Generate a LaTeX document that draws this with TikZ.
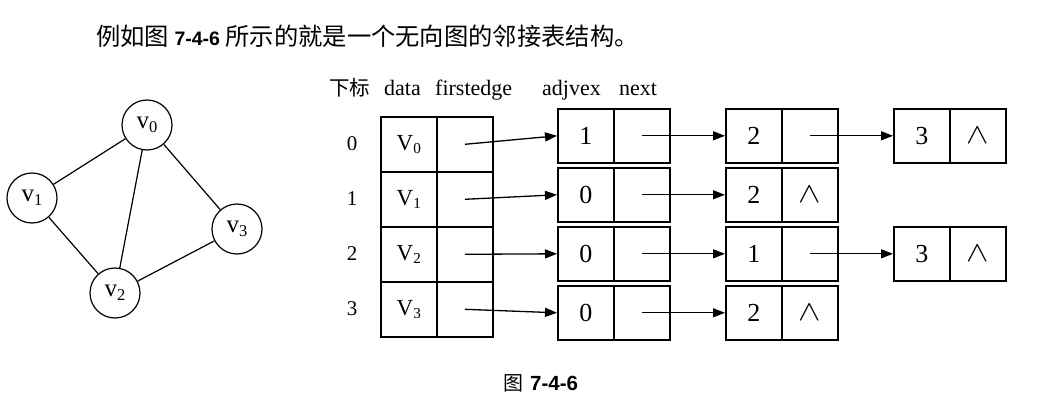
\documentclass[tikz,border=0pt]{standalone}
\usepackage{fontspec}
\setmainfont{Liberation Serif}
\newfontfamily\cjk{Noto Sans CJK SC}
\newfontfamily\bsans{Liberation Sans}
\usetikzlibrary{arrows.meta}
\newcommand\lsub[1]{\raisebox{-0.32ex}{\scalebox{0.66}{#1}}}
\newcommand\nil{\scalebox{1.35}[1.15]{$\wedge$}}
\begin{document}
\begin{tikzpicture}[x=1pt,y=-1pt,
  cellbox/.style={draw, line width=1.6pt, inner sep=0pt, anchor=north west,
    minimum width=56pt},
  vrow/.style={cellbox, minimum height=55pt},
  erow/.style={cellbox, minimum height=54pt},
  link/.style={line width=1.3pt, -{Triangle[length=12pt,width=9pt]}},
  vert/.style={draw, circle, line width=1.2pt, minimum size=50pt, inner sep=0pt,
    font=\fontsize{25}{27}\selectfont},
  gedge/.style={line width=1.2pt},
  lbl/.style={inner sep=0pt, font=\fontsize{21}{24}\selectfont},
  hdr/.style={inner sep=0pt, anchor=base west, font=\fontsize{22}{24}\selectfont}]
\useasboundingbox[fill=white] (0,0) rectangle (1039,401);

% title
\node[inner sep=0pt, anchor=base west] (title) at (96,46)
  {\fontsize{24.3}{28}\selectfont\cjk 例如图 {\bsans\bfseries\fontsize{19.5}{22}\selectfont 7-4-6} 所示的就是一个无向图的邻接表结构。};

% graph
\node[vert] (v0) at (147,125) {v\lsub{0}};
\node[vert] (v1) at (32,198) {v\lsub{1}};
\node[vert] (v3) at (237,229) {v\lsub{3}};
\node[vert] (v2) at (115,293) {v\lsub{2}};
\draw[gedge] (v0) -- (v1);
\draw[gedge] (v0) -- (v2);
\draw[gedge] (v0) -- (v3);
\draw[gedge] (v1) -- (v2);
\draw[gedge] (v2) -- (v3);

% header
\node[hdr] (h1) at (329,96) {{\cjk\fontsize{20.5}{22}\selectfont 下标}};
\node[hdr] (h2) at (384,96) {data};
\node[hdr] (h3) at (435,96) {firstedge};
\node[hdr] (h4) at (542,96) {adjvex};
\node[hdr] (h5) at (619,96) {next};

% vertex table
\foreach \r in {0,1,2,3}{
  \node[vrow, font=\fontsize{23}{25}\selectfont] (d\r) at (380,{116+55*\r}) {V\lsub{\r}};
  \node[vrow] (f\r) at (436,{116+55*\r}) {};
  \node[lbl] (i\r) at (352,{143.5+55*\r}) {\r};
}

% edge nodes
\foreach \r/\c/\v/\n in {0/0/1/, 0/1/2/, 0/2/3/\nil,
                         1/0/0/, 1/1/2/\nil,
                         2/0/0/, 2/1/1/, 2/2/3/\nil,
                         3/0/0/, 3/1/2/\nil}{
  \node[erow, font=\fontsize{26}{28}\selectfont] (a\r\c) at ({557+168*\c},{108+59*\r}) {\v};
  \node[erow, font=\fontsize{28}{30}\selectfont] (n\r\c) at ({613+168*\c},{108+59*\r}) {\n};
}

% links
\draw[link] (f0.center) -- (a00.west);
\draw[link] (f1.center) -- (a10.west);
\draw[link] (f2.center) -- (a20.west);
\draw[link] (f3.center) -- (a30.west);
\draw[link] (n00.center) -- (a01.west);
\draw[link] (n01.center) -- (a02.west);
\draw[link] (n10.center) -- (a11.west);
\draw[link] (n20.center) -- (a21.west);
\draw[link] (n21.center) -- (a22.west);
\draw[link] (n30.center) -- (a31.west);

% caption
\node[inner sep=0pt, anchor=base west] (cap) at (503,390)
  {{\cjk\fontsize{20}{22}\selectfont 图}\hspace{7pt}{\bsans\bfseries\fontsize{20.5}{22}\selectfont 7-4-6}};
\end{tikzpicture}
\end{document}
